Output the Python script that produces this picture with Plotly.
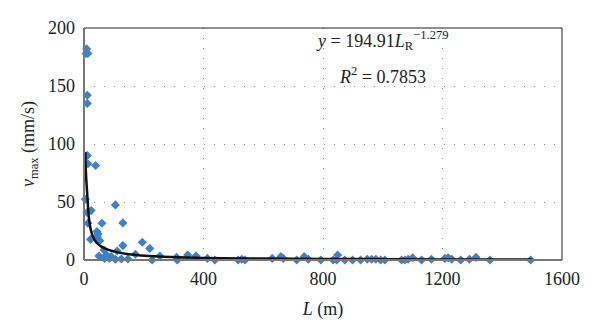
import plotly.graph_objects as go

# Measured points (L in m, v_max in mm/s)
L_pts = [9, 7, 13, 11, 11, 11, 13, 39, 4.5, 10, 24, 13, 60, 105, 130, 22, 43.5, 47, 44.5, 52.5,
         130, 195, 220, 50, 67, 75, 69, 80, 85, 91, 111, 105, 125, 147, 172, 228,
         254, 310, 312, 347, 375, 413, 438, 516, 528, 539, 630, 659, 667, 712,
         737, 751, 793, 834, 849, 846, 873, 899, 926, 948, 963, 977, 993, 1007,
         1063, 1074, 1085, 1100, 1130, 1163, 1208, 1219, 1231, 1261, 1290, 1312, 1359, 1495]
v_pts = [182, 178, 178, 142, 135, 90, 83, 81.5, 52.4, 41, 42.6, 31.7, 31.7, 47.5, 32, 17.8, 24.5, 22.5, 20, 16.7,
         12.4, 15.3, 10, 3.5, 8.6, 4.3, 1.4, 2.9, 1.4, 2.9, 7.8, 0.6, 0.9, 0.9, 4.9, 0,
         3.5, 2.3, 0, 4.3, 3.5, 1.4, 0, 0, 0.6, 0, 1.4, 2.9, 1.4, 0,
         2.9, 0.6, 0, 0, 4.3, 0, 0, 0, 0, 0.6, 0.6, 0.6, 0, 0,
         0, 0, 0.6, 2, 0, 0.6, 1.4, 2, 0.6, 0, 0.6, 2.3, 0, 0]

# Trend curve
L_fit = [4.5, 6, 8, 11, 14, 17, 22, 30, 40, 58, 80, 103, 150, 250, 400, 600, 800, 1000, 1200, 1500]
v_fit = [93, 78, 68, 56, 44, 35, 27, 20, 15.5, 11.5, 9, 7.2, 5, 3, 1.8, 1.2, 0.9, 0.7, 0.5, 0.4]

x_ticks = [0, 400, 800, 1200, 1600]
y_ticks = [0, 50, 100, 150, 200]

SERIF = "Liberation Serif, serif"
FS = 18

fig = go.Figure()
fig.add_trace(go.Scatter(x=L_pts, y=v_pts, mode="markers",
                         marker=dict(symbol="diamond", size=7, color="#3d80cc",
                                     line=dict(width=0)),
                         showlegend=False, cliponaxis=False))
fig.add_trace(go.Scatter(x=L_fit, y=v_fit, mode="lines", line=dict(color="#111111", width=2.5, shape="spline"),
                         showlegend=False))

grid = dict(showgrid=True, gridcolor="#8a8a8a", gridwidth=1, griddash="1px,9px")
fig.update_xaxes(range=[0, 1600], tickvals=x_ticks, ticks="", zeroline=False,
                 showline=False, ticklabelstandoff=6, **grid,
                 tickfont=dict(family=SERIF, size=FS, color="#222"),
                 title=dict(text="<i>L</i> (m)", font=dict(family=SERIF, size=FS, color="#222"), standoff=14))
fig.update_yaxes(range=[0, 200], tickvals=y_ticks, ticks="", zeroline=False,
                 showline=False, ticklabelstandoff=8, **grid,
                 tickfont=dict(family=SERIF, size=FS, color="#222"),
                 title=dict(text="<i>v</i><sub>max</sub> (mm/s)", font=dict(family=SERIF, size=FS, color="#222"), standoff=8))

# Frame: dark top/right, gray left/bottom
fig.add_shape(type="rect", xref="paper", yref="paper", x0=0, x1=1, y0=0, y1=1,
              line=dict(color="#222", width=1), layer="above")
fig.add_shape(type="line", xref="paper", yref="paper", x0=0, x1=0, y0=0, y1=1,
              line=dict(color="#777", width=2), layer="above")
fig.add_shape(type="line", xref="paper", yref="paper", x0=0, x1=1, y0=0, y1=0,
              line=dict(color="#777", width=2), layer="above")

fig.add_annotation(x=0.624, y=1.01, xref="paper", yref="paper", showarrow=False,
                   text="<i>y</i> = 194.91<i>L</i><sub>R</sub><sup>−1.279</sup>",
                   font=dict(family=SERIF, size=FS, color="#222"))
fig.add_annotation(x=0.624, y=0.855, xref="paper", yref="paper", showarrow=False,
                   text="<i>R</i><sup>2</sup> = 0.7853",
                   font=dict(family=SERIF, size=FS, color="#222"))

fig.update_layout(width=600, height=331, margin=dict(l=84, r=38, t=28, b=71),
                  plot_bgcolor="white", paper_bgcolor="white",
                  font=dict(family=SERIF))

fig.write_html("out.html")
